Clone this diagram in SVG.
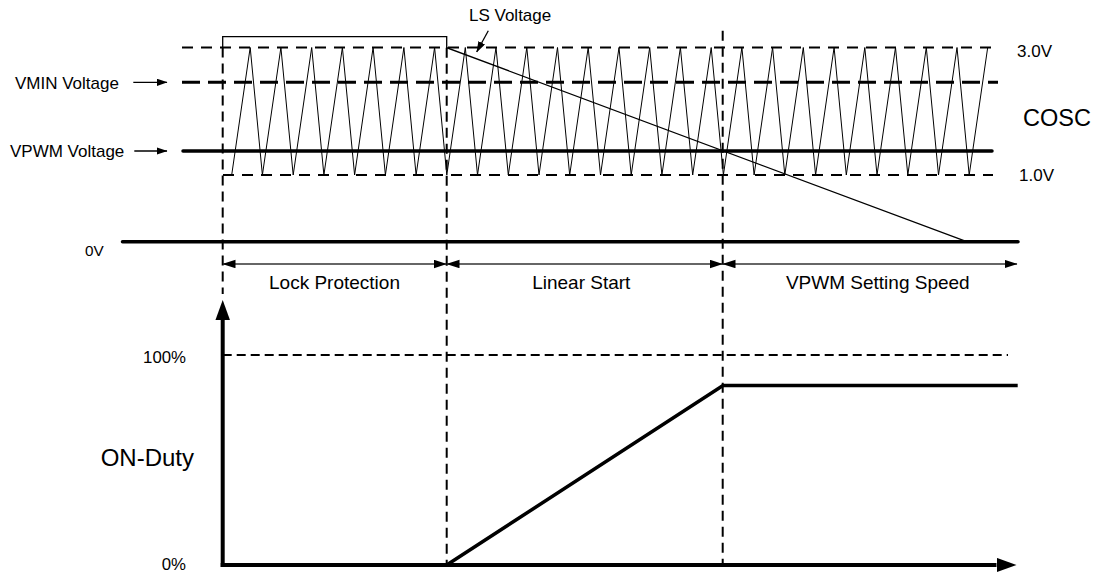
<svg xmlns="http://www.w3.org/2000/svg" width="1098" height="573" viewBox="0 0 1098 573">
  <style>
    text { font-family: "Liberation Sans", Arial, sans-serif; fill: #000; }
    .lbl { font-size: 17px; }
    .dim { font-size: 19px; text-anchor: middle; }
    .pct { font-size: 16.8px; text-anchor: end; }
    .thin-dash { stroke: #000; stroke-width: 2; stroke-dasharray: 11 8; fill: none; }
    .vmin-dash { stroke: #000; stroke-width: 3; stroke-dasharray: 18 8; fill: none; }
    .vdash { stroke: #000; stroke-width: 2; stroke-dasharray: 10 6; fill: none; }
    .dash100 { stroke: #000; stroke-width: 2; stroke-dasharray: 9 5; fill: none; }
    .thick { stroke: #000; stroke-width: 3.5; fill: none; stroke-linecap: round; }
    .axis { stroke: #000; stroke-width: 4; fill: none; }
    .wave { stroke: #000; stroke-width: 1; fill: none; stroke-linejoin: miter; }
    .ls { stroke: #000; stroke-width: 1.3; fill: none; }
    .ptr { stroke: #000; stroke-width: 1.3; fill: none; }
    .dimline { stroke: #333; stroke-width: 1.3; fill: none; }
  </style>
  <defs>
    <marker id="ptrHead" markerUnits="userSpaceOnUse" markerWidth="11" markerHeight="8" refX="10.5" refY="3.75" orient="auto">
      <path d="M0,0 L11,3.75 L0,7.5 z" fill="#000"/>
    </marker>
    <marker id="dimHead" markerUnits="userSpaceOnUse" markerWidth="13" markerHeight="9" refX="12.5" refY="4.25" orient="auto-start-reverse">
      <path d="M0,0 L13,4.25 L0,8.5 z" fill="#000"/>
    </marker>
    <marker id="axisHead" markerUnits="userSpaceOnUse" markerWidth="21" markerHeight="15" refX="1" refY="7.25" orient="auto">
      <path d="M0,0 L20,7.25 L0,14.5 z" fill="#000"/>
    </marker>
  </defs>

  <g id="cosc-levels">
    <line class="thin-dash" x1="182" y1="47.5" x2="998" y2="47.5"/>
    <line class="vmin-dash" x1="182" y1="82.3" x2="998" y2="82.3"/>
    <line class="thick" x1="183" y1="151" x2="992" y2="151"/>
    <line class="thin-dash" x1="223" y1="175" x2="993" y2="175"/>
  </g>

  <g id="cosc-wave">
    <path class="wave" d="M231.7,175 L250.2,47.5 L262.4,175 L280.9,47.5 L293.2,175 L311.7,47.5 L323.9,175 L342.4,47.5 L354.6,175 L373.1,47.5 L385.4,175 L403.9,47.5 L416.1,175 L434.6,47.5 L446.8,175 L465.3,47.5 L477.5,175 L496.0,47.5 L508.3,175 L526.8,47.5 L539.0,175 L557.5,47.5 L569.7,175 L588.2,47.5 L600.5,175 L619.0,47.5 L631.2,175 L649.7,47.5 L661.9,175 L680.4,47.5 L692.7,175 L711.2,47.5 L723.4,175 L741.9,47.5 L754.1,175 L772.6,47.5 L784.8,175 L803.3,47.5 L815.6,175 L834.1,47.5 L846.3,175 L864.8,47.5 L877.0,175 L895.5,47.5 L907.8,175 L926.3,47.5 L938.5,175 L957.0,47.5 L969.2,175 L987.7,47.5"/>
  </g>

  <g id="ls-voltage">
    <polyline class="ls" points="222.7,47.5 222.7,36.7 446.7,36.7 446.7,47.7 966.7,241.7"/>
  </g>

  <g id="phase-dividers">
    <line class="vdash" x1="222.7" y1="47.5" x2="222.7" y2="294"/>
    <line class="vdash" x1="446.7" y1="47.7" x2="446.7" y2="565"/>
    <line class="vdash" x1="722.7" y1="30.7" x2="722.7" y2="565"/>
  </g>

  <g id="zero-volt">
    <line class="thick" x1="122.5" y1="241.7" x2="1018" y2="241.7"/>
  </g>

  <g id="duty-chart">
    <line class="dash100" x1="222.7" y1="355" x2="1008" y2="355"/>
    <polyline class="thick" style="stroke-linecap:butt" points="446.7,565 723,385.5 1017.7,385.5"/>
    <line class="axis" x1="222.7" y1="567" x2="222.7" y2="320"/>
    <line class="axis" x1="220.7" y1="565" x2="996.5" y2="565"/>
  </g>

  <g id="connectors">
    <line class="ptr" x1="133.3" y1="82.3" x2="167" y2="82.3" marker-end="url(#ptrHead)"/>
    <line class="ptr" x1="134.3" y1="151" x2="167" y2="151" marker-end="url(#ptrHead)"/>
    <line class="ptr" x1="488.3" y1="30.7" x2="476.7" y2="52" marker-end="url(#ptrHead)"/>
    <line class="dimline" x1="223" y1="264" x2="446.4" y2="264" marker-start="url(#dimHead)" marker-end="url(#dimHead)"/>
    <line class="dimline" x1="447" y1="264" x2="722.4" y2="264" marker-start="url(#dimHead)" marker-end="url(#dimHead)"/>
    <line class="dimline" x1="723" y1="264" x2="1017" y2="264" marker-start="url(#dimHead)" marker-end="url(#dimHead)"/>
    <line class="axis" style="stroke:none" x1="222.7" y1="320" x2="222.7" y2="319" marker-end="url(#axisHead)"/>
    <line class="axis" style="stroke:none" x1="996.5" y1="565" x2="997.5" y2="565" marker-end="url(#axisHead)"/>
  </g>

  <g id="labels">
    <text class="lbl" x="469" y="21">LS Voltage</text>
    <text class="lbl" x="15" y="89.3">VMIN Voltage</text>
    <text class="lbl" x="10" y="157">VPWM Voltage</text>
    <text class="lbl" x="1017" y="57">3.0V</text>
    <text x="1023" y="126" style="font-size:23.5px">COSC</text>
    <text class="lbl" x="1019" y="180.5">1.0V</text>
    <text x="85" y="255.7" style="font-size:15.3px">0V</text>
    <text class="dim" x="334.5" y="289">Lock Protection</text>
    <text class="dim" x="581.3" y="289">Linear Start</text>
    <text class="dim" x="877.8" y="289">VPWM Setting Speed</text>
    <text class="pct" x="186" y="363.3">100%</text>
    <text x="100.7" y="466" style="font-size:24px">ON-Duty</text>
    <text class="pct" x="186" y="569.5">0%</text>
  </g>
</svg>
